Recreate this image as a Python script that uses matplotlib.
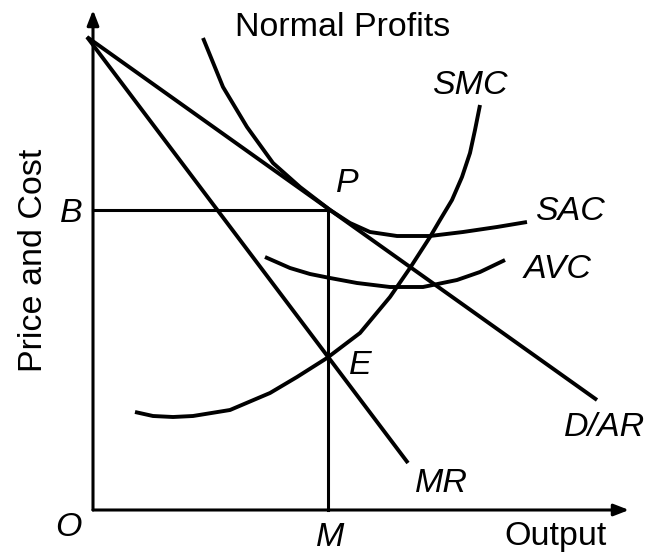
import matplotlib
matplotlib.use("Agg")
import matplotlib.pyplot as plt

# Demand / average revenue and marginal revenue (straight lines)
dar_q = [-0.12, 10.08]
dar_p = [9.46, 2.20]
mr_q = [-0.12, 6.30]
mr_p = [9.46, 0.94]

# Equilibrium output M, price B (point P)
eq_q = 4.70
eq_price = 6.00

# Short-run average cost
sac_q = [2.20, 2.60, 3.08, 3.60, 4.14, 4.44, 4.74, 5.14, 5.54, 6.08, 6.74, 7.40, 8.08, 8.68]
sac_p = [9.44, 8.46, 7.66, 6.94, 6.46, 6.23, 6.00, 5.74, 5.56, 5.48, 5.48, 5.56, 5.66, 5.76]

# Average variable cost
avc_q = [3.44, 3.94, 4.34, 4.74, 5.28, 5.94, 6.60, 7.28, 7.74, 8.24]
avc_p = [5.06, 4.84, 4.72, 4.64, 4.54, 4.46, 4.46, 4.60, 4.76, 5.00]

# Short-run marginal cost
smc_q = [0.84, 1.20, 1.60, 2.00, 2.74, 3.54, 4.08, 4.68, 5.34, 5.94, 6.34,
         6.74, 6.94, 7.18, 7.38, 7.54, 7.64, 7.74]
smc_p = [1.96, 1.88, 1.86, 1.88, 2.00, 2.34, 2.66, 3.04, 3.54, 4.26, 4.84,
         5.46, 5.80, 6.20, 6.66, 7.14, 7.60, 8.10]

plt.rcParams["font.family"] = ["Liberation Sans", "DejaVu Sans"]

fig = plt.figure(figsize=(6.48, 5.6), dpi=100)
ax = fig.add_axes([0, 0, 1, 1])
ax.set_xlim(-1.86, 11.1)
ax.set_ylim(-1.0, 10.2)
ax.axis("off")

lw = 2.8
for q, p in [(dar_q, dar_p), (mr_q, mr_p), (sac_q, sac_p), (avc_q, avc_p), (smc_q, smc_p)]:
    ax.plot(q, p, color="black", lw=lw, solid_capstyle="butt", solid_joinstyle="round")

# B-P horizontal and P-M vertical
ax.plot([0, eq_q], [eq_price, eq_price], color="black", lw=2.2)
ax.plot([eq_q, eq_q], [0, eq_price], color="black", lw=2.2)

# axes with arrow heads
arrow = dict(arrowstyle="-|>,head_length=0.9,head_width=0.35", color="black", lw=2.2,
             shrinkA=0, shrinkB=0)
ax.annotate("", xy=(0, 10.0), xytext=(0, 0), arrowprops=arrow)
ax.annotate("", xy=(10.72, 0), xytext=(0, 0), arrowprops=arrow)

fs = 24.5
it = dict(fontsize=fs, fontstyle="italic", ha="center", va="center")
ax.text(5.0, 9.64, "Normal Profits", fontsize=fs, ha="center", va="center")
ax.text(7.54, 8.5, "SMC", **it)
ax.text(9.54, 5.96, "SAC", **it)
ax.text(9.3, 4.8, "AVC", **it)
ax.text(10.24, 1.66, "D/AR", **it)
ax.text(6.96, 0.54, "MR", **it)
ax.text(5.34, 2.9, "E", **it)
ax.text(5.08, 6.52, "P", **it)
ax.text(-0.44, 5.94, "B", **it)
ax.text(-0.5, -0.34, "O", **it)
ax.text(4.74, -0.56, "M", **it)
ax.text(9.26, -0.54, "Output", fontsize=fs, ha="center", va="center")
ax.text(-1.2, 5.0, "Price and Cost", fontsize=fs, ha="center", va="center", rotation=90)

fig.savefig("out.png", dpi=100)
